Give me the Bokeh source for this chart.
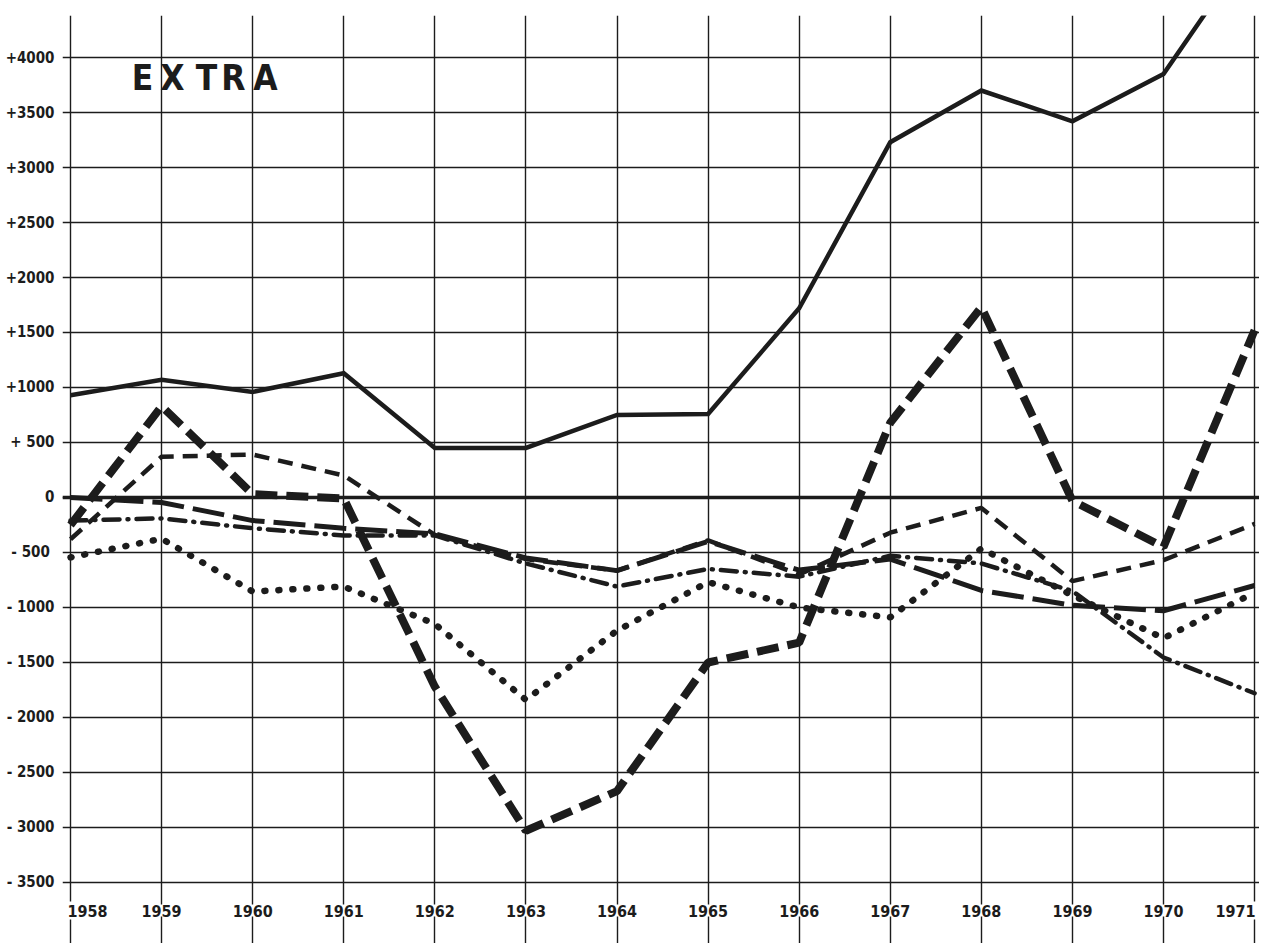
from bokeh.plotting import figure
from bokeh.models import FixedTicker, Grid, Span, Label, LabelSet, ColumnDataSource, Range1d
from bokeh.core.properties import value
from bokeh.embed import file_html
from bokeh.resources import INLINE

years = list(range(1958, 1972))
year_labels = [str(y) for y in years]

solid_series = [930, 1070, 960, 1130, 450, 450, 750, 760, 1720, 3230, 3700, 3420, 3850, 5050]
heavy_dash_series = [-250, 830, 30, -10, -1720, -3030, -2670, -1500, -1320, 680, 1730, -30, -450, 1520]
medium_dash_series = [-380, 370, 390, 200, -340, -560, -665, -390, -700, -320, -95, -760, -570, -240]
long_dash_series = [0, -45, -210, -280, -330, -550, -665, -400, -660, -560, -845, -980, -1030, -800]
dash_dot_series = [-210, -190, -280, -345, -345, -600, -810, -650, -720, -530, -600, -850, -1455, -1780]
dotted_series = [-545, -375, -855, -810, -1150, -1840, -1210, -770, -1000, -1090, -465, -890, -1280, -865]

title_letters = ["E", "X", "T", "R", "A"]

y_ticks = list(range(-3500, 4001, 500))
y_tick_labels = {}
for t in y_ticks:
    if t == 0:
        y_tick_labels[t] = "0"
    elif t > 0:
        y_tick_labels[t] = "+ 500" if t == 500 else "+%d" % t
    else:
        y_tick_labels[t] = "-  500" if t == -500 else "- %d" % (-t)

INK = "#1c1c1c"
NARROW = "Liberation Sans Narrow, DejaVu Sans Condensed, sans-serif"
FRAME_LEFT = 62

p = figure(width=1259, height=943, output_backend="svg", toolbar_location=None,
           x_range=Range1d(1957.912, 1971.054), y_range=Range1d(-4055, 4382),
           x_axis_location=None, min_border_left=FRAME_LEFT, min_border_right=0,
           min_border_top=15, min_border_bottom=0, outline_line_color=None,
           background_fill_color="white", border_fill_color="white")

p.yaxis.ticker = FixedTicker(ticks=y_ticks)
p.yaxis.major_label_overrides = y_tick_labels
p.yaxis.axis_line_color = None
p.yaxis.major_tick_line_color = None
p.yaxis.minor_tick_line_color = None
p.yaxis.major_tick_out = 0
p.yaxis.major_tick_in = 0
p.yaxis.major_label_standoff = 8
p.yaxis.major_label_text_font = NARROW
p.yaxis.major_label_text_font_style = "bold"
p.yaxis.major_label_text_font_size = "15px"
p.yaxis.major_label_text_color = INK

p.ygrid.grid_line_color = INK
p.ygrid.grid_line_width = 1.4
p.ygrid.grid_line_alpha = 1.0

xgrid = Grid(dimension=0, ticker=FixedTicker(ticks=years), grid_line_color=INK,
             grid_line_width=1.4)
p.add_layout(xgrid)

zero = Span(location=0, dimension="width", line_color=INK, line_width=3.5, level="underlay")
p.add_layout(zero)

p.line(years, solid_series, line_width=4.5, line_color=INK, line_join="miter")
p.line(years, heavy_dash_series, line_width=8, line_color=INK, line_dash="22 9")
p.line(years, medium_dash_series, line_width=4.5, line_color=INK, line_dash="15 9")
p.line(years, long_dash_series, line_width=5, line_color=INK, line_dash="32 9")
p.line(years, dash_dot_series, line_width=4.5, line_color=INK, line_dash="16 8 1 8", line_cap="round")
p.line(years, dotted_series, line_width=6.5, line_color=INK, line_dash="1 13", line_cap="round")

src = ColumnDataSource(data=dict(x=years[1:-1], t=year_labels[1:-1]))
labels = LabelSet(x="x", y=-3755, text="t", source=src, text_align="center",
                  text_baseline="middle", text_font=value(NARROW), text_font_style="bold",
                  text_font_size="16px", text_color=INK,
                  background_fill_color="white", background_fill_alpha=1.0)
try:
    labels.padding = 3
except Exception:
    pass
p.add_layout(labels)

edge_labels = [
    Label(x=years[0], y=-3755, text=year_labels[0], text_align="left", x_offset=-6),
    Label(x=years[-1], y=-3755, text=year_labels[-1], text_align="right", x_offset=4),
]
for lab in edge_labels:
    lab.text_baseline = "middle"
    lab.text_font = NARROW
    lab.text_font_style = "bold"
    lab.text_font_size = "16px"
    lab.text_color = INK
    lab.background_fill_color = "white"
    lab.background_fill_alpha = 1.0
    try:
        lab.padding = 3
    except Exception:
        pass
    p.add_layout(lab)

title_centers = [142, 172, 206, 233, 265]
for letter, cx in zip(title_letters, title_centers):
    p.add_layout(Label(x=cx - FRAME_LEFT, x_units="screen", y=3636, text=letter, text_font=NARROW,
                       text_font_style="bold", text_font_size="35px", text_color=INK,
                       text_baseline="bottom", text_align="center"))

open("out.html", "w").write(file_html(p, INLINE))
